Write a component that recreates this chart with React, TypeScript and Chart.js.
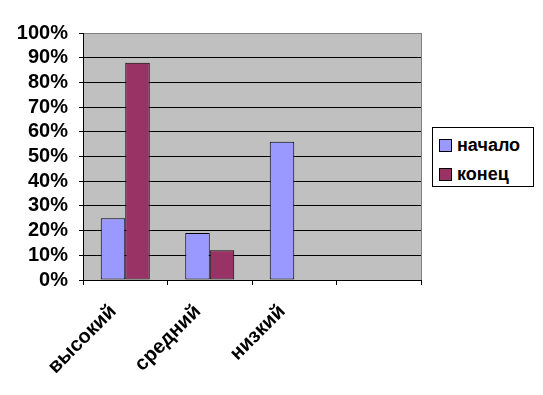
import React, { useEffect, useRef } from "react";
import { Chart, registerables } from "chart.js";

Chart.register(...registerables);

const categories = ["высокий", "средний", "низкий", ""];
const seriesNames = ["начало", "конец"];
const startValues = [25, 19, 56, null];
const endValues = [88, 12, null, null];
const seriesColors = ["#9999FF", "#993366"];
const yTicks = [0, 10, 20, 30, 40, 50, 60, 70, 80, 90, 100];

const FONT = "'Liberation Sans', Arial, sans-serif";

const plotBg = {
  id: "plotBg",
  beforeDraw(chart: any) {
    const { ctx, chartArea: a } = chart;
    ctx.save();
    ctx.fillStyle = "#C0C0C0";
    ctx.fillRect(a.left, a.top, a.right - a.left, a.bottom - a.top);
    ctx.restore();
  },
  afterDraw(chart: any) {
    const { ctx, chartArea: a } = chart;
    ctx.save();
    ctx.strokeStyle = "#808080";
    ctx.lineWidth = 1;
    ctx.beginPath();
    const x = Math.round(a.right) + 0.5;
    ctx.moveTo(x, Math.round(a.top));
    ctx.lineTo(x, Math.round(a.bottom));
    ctx.stroke();
    ctx.restore();
  },
};

export default function App() {
  const ref = useRef<HTMLCanvasElement>(null);
  useEffect(() => {
    if (!ref.current) return;
    const chart = new Chart(ref.current, {
      type: "bar",
      data: {
        labels: categories,
        datasets: [
          {
            label: seriesNames[0],
            data: startValues,
            backgroundColor: seriesColors[0],
            borderColor: "#000",
            borderWidth: 1,
            borderSkipped: false,
          },
          {
            label: seriesNames[1],
            data: endValues,
            backgroundColor: seriesColors[1],
            borderColor: "#000",
            borderWidth: 1,
            borderSkipped: false,
          },
        ],
      } as any,
      options: {
        animation: false,
        responsive: false,
        maintainAspectRatio: false,
        layout: { padding: { left: 0, top: 33, right: 122, bottom: 0 } },
        datasets: { bar: { categoryPercentage: 0.58, barPercentage: 1 } },
        plugins: { legend: { display: false }, tooltip: { enabled: false } },
        scales: {
          x: {
            offset: true,
            afterFit(axis: any) {
              axis.height = 115;
            },
            grid: {
              display: true,
              offset: true,
              drawOnChartArea: false,
              drawTicks: true,
              tickLength: 5,
              color: "#000",
            },
            border: { display: true, color: "#000", width: 1 },
            ticks: {
              color: "#000",
              font: { family: FONT, size: 20, weight: "bold" },
              maxRotation: 45,
              minRotation: 45,
              padding: 15,
              labelOffset: -12,
              autoSkip: false,
            },
          },
          y: {
            min: 0,
            max: 100,
            afterFit(axis: any) {
              axis.width = 83;
            },
            afterBuildTicks(axis: any) {
              axis.ticks = yTicks.map((v) => ({ value: v }));
            },
            grid: {
              color: (c: any) => (c.tick && c.tick.value === 100 ? "#808080" : "#000"),
              tickColor: "#000",
              tickLength: 4,
              drawTicks: true,
            },
            border: { display: true, color: "#000", width: 1 },
            ticks: {
              color: "#000",
              padding: 11,
              autoSkip: false,
              font: { family: FONT, size: 20, weight: "bold", lineHeight: 1 },
              callback: (v: any) => v + "%",
            },
          },
        },
      } as any,
      plugins: [plotBg],
    });
    return () => chart.destroy();
  }, []);

  return (
    <div style={{ position: "fixed", left: 0, top: 0, width: 543, height: 395, background: "#fff" }}>
      <canvas ref={ref} width={543} height={395} style={{ position: "absolute", left: 0, top: 0 }} />
      <div
        style={{
          position: "absolute",
          left: 432,
          top: 127,
          width: 100,
          height: 58,
          border: "1px solid #000",
          background: "#fff",
          fontFamily: FONT,
          fontWeight: "bold",
          fontSize: 18,
          color: "#000",
        }}
      >
        {seriesNames.map((n, i) => (
          <div
            key={n}
            style={{
              position: "absolute",
              left: 6,
              top: i === 0 ? 7 : 36,
              display: "flex",
              alignItems: "center",
              height: 20,
            }}
          >
            <span
              style={{
                display: "inline-block",
                width: 11,
                height: 11,
                border: "1px solid #000",
                background: seriesColors[i],
                marginRight: 5,
              }}
            />
            <span>{n}</span>
          </div>
        ))}
      </div>
    </div>
  );
}
